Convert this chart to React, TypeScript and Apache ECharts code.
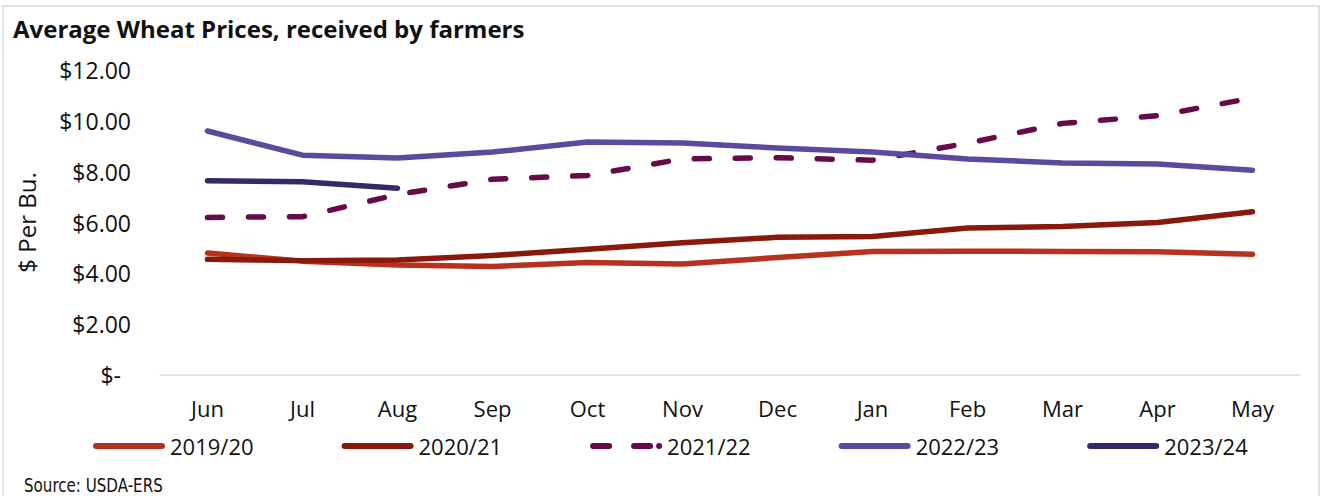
import React, { useEffect, useRef } from "react";
import * as echarts from "echarts";

const months = ["Jun", "Jul", "Aug", "Sep", "Oct", "Nov", "Dec", "Jan", "Feb", "Mar", "Apr", "May"];
const yTicks = [0, 2, 4, 6, 8, 10, 12];

const s2019 = [4.8, 4.48, 4.33, 4.27, 4.43, 4.37, 4.62, 4.86, 4.87, 4.86, 4.85, 4.75];
const s2020 = [4.55, 4.5, 4.52, 4.7, 4.95, 5.2, 5.42, 5.45, 5.78, 5.84, 6.0, 6.42];
const s2021 = [6.2, 6.23, 7.1, 7.7, 7.85, 8.5, 8.55, 8.45, 9.12, 9.9, 10.2, 10.9];
const s2022 = [9.6, 8.65, 8.54, 8.77, 9.17, 9.13, 8.93, 8.77, 8.5, 8.34, 8.3, 8.06];
const s2023 = [7.64, 7.6, 7.35];

const seriesNames = ["2019/20", "2020/21", "2021/22", "2022/23", "2023/24"];
const seriesColors = ["#B8311F", "#8A190D", "#660A48", "#5B4A9E", "#342A68"];

const FONT = "'Open Sans', 'Noto Sans', sans-serif";

const SOLID_ICON =
  "path://M3,0 L69,0 A3,3 0 0 1 69,6 L3,6 A3,3 0 0 1 3,0 Z";
const DASH_ICON =
  "path://M3,0 L19,0 A3,3 0 0 1 19,6 L3,6 A3,3 0 0 1 3,0 Z M44,0 L60,0 A3,3 0 0 1 60,6 L44,6 A3,3 0 0 1 44,0 Z M69,0 A3,3 0 0 1 69,6 A3,3 0 0 1 69,0 Z M72,3 L72,3.01 Z";

export default function App() {
  const ref = useRef<HTMLDivElement>(null);
  useEffect(() => {
    if (!ref.current) return;
    const chart = echarts.init(ref.current, undefined, { renderer: "svg" });
    const datas = [s2019, s2020, s2021, s2022, s2023];
    const series = datas.map((d, i) => ({
      name: seriesNames[i],
      type: "line",
      data: d,
      symbol: "none",
      lineStyle: {
        color: seriesColors[i],
        width: 5.5,
        type: i === 2 ? [15, 26] : "solid",
        cap: "round",
        join: "round",
      },
      itemStyle: { color: seriesColors[i] },
      z: i === 3 ? 3 : 2,
    }));
    chart.setOption({
      animation: false,
      backgroundColor: "#ffffff",
      title: {
        text: "Average Wheat Prices, received by farmers",
        left: 8,
        top: 11,
        textStyle: { fontFamily: FONT, fontSize: 24, fontWeight: "bold", color: "#111" },
      },
      grid: { left: 160, right: 24, top: 70, bottom: 121, containLabel: false },
      xAxis: {
        type: "category",
        data: months,
        boundaryGap: true,
        axisLine: { lineStyle: { color: "#D9D9D9", width: 1.5 } },
        axisTick: { show: false },
        axisLabel: { fontFamily: FONT, fontSize: 22, color: "#111", margin: 22 },
      },
      yAxis: {
        type: "value",
        min: 0,
        max: 12,
        interval: 2,
        splitLine: { show: false },
        axisLine: { show: false },
        axisTick: { show: false },
        name: "$ Per Bu.",
        nameLocation: "middle",
        nameGap: 122,
        nameRotate: 90,
        nameTextStyle: { fontFamily: FONT, fontSize: 24, color: "#111" },
        axisLabel: {
          fontFamily: FONT,
          fontSize: 23,
          color: "#111",
          margin: 29,
          formatter: (v: number) =>
            yTicks.indexOf(v) === 0 ? "{z|$-}" : "$" + v.toFixed(2),
          rich: {
            z: { fontFamily: FONT, fontSize: 23, color: "#111", padding: [0, 10, 0, 0] },
          },
        },
      },
      legend: {
        data: seriesNames.map((n, i) => ({ name: n, icon: i === 2 ? DASH_ICON : SOLID_ICON })),
        left: 88,
        top: 430,
        itemWidth: 72,
        itemHeight: 6,
        itemGap: 88,
        symbolKeepAspect: false,
        textStyle: { fontFamily: FONT, fontSize: 22, color: "#111" },
      },
      graphic: [
        {
          type: "rect",
          shape: { x: 3, y: 6, width: 1316, height: 500 },
          style: { fill: "none", stroke: "#D9D9D9", lineWidth: 1.5 },
          silent: true,
        },
        {
          type: "text",
          x: 24,
          y: 475,
          scaleX: 0.84,
          style: {
            text: "Source: USDA-ERS",
            fontFamily: "'DejaVu Sans Condensed', 'DejaVu Sans', sans-serif",
            fontSize: 20,
            fill: "#111",
          },
        },
      ],
      series,
    });
    return () => chart.dispose();
  }, []);
  return (
    <div
      ref={ref}
      style={{ position: "absolute", left: 0, top: 0, width: 1324, height: 496 }}
    />
  );
}
